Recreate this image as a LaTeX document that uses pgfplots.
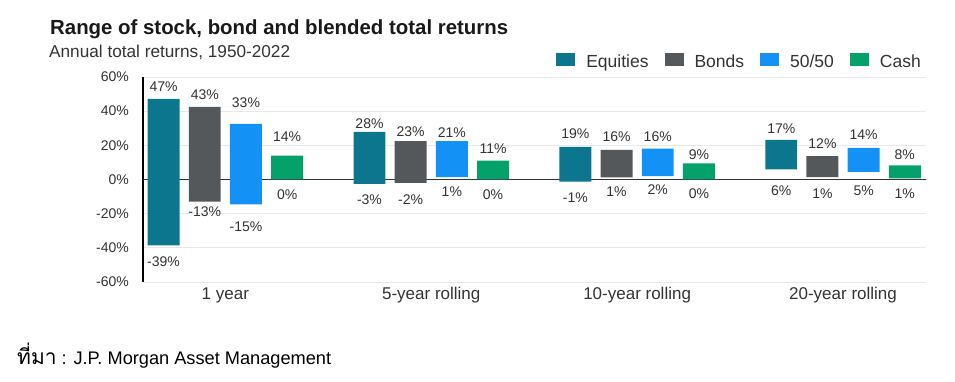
\documentclass[border=0pt]{standalone}
\usepackage{pgfplots}
\usepackage{pgfplotstable}
\pgfplotsset{compat=1.18}
\usepackage{fontspec}
\setmainfont{Liberation Sans}
\newfontfamily\thaifont[Script=Thai]{Loma}
\definecolor{eqc}{HTML}{0C768F}
\definecolor{boc}{HTML}{55585A}
\definecolor{mic}{HTML}{1491F5}
\definecolor{cac}{HTML}{04A16B}
\definecolor{txt}{HTML}{333333}
\definecolor{grd}{HTML}{E8E8E8}

% x: bar position; *b = bottom of range, *d = height of range (top - bottom)
\pgfplotstableread{
x     eqb    eqd   bob    bod   mib    mid   cab   cad
-0.3  -38.6  85.8  0      0     0      0     0     0
-0.1  0      0     -12.9  55.4  0      0     0     0
0.1   0      0     0      0     -14.6  47.2  0     0
0.3   0      0     0      0     0      0     0     14.0
0.7   -2.5   30.4  0      0     0      0     0     0
0.9   0      0     -2.0   24.4  0      0     0     0
1.1   0      0     0      0     1.4    21.0  0     0
1.3   0      0     0      0     0      0     0     11.0
1.7   -1.2   20.3  0      0     0      0     0     0
1.9   0      0     1.2    16.2  0      0     0     0
2.1   0      0     0      0     2.0    16.0  0     0
2.3   0      0     0      0     0      0     0     9.5
2.7   5.9    17.3  0      0     0      0     0     0
2.9   0      0     1.4    12.3  0      0     0     0
3.1   0      0     0      0     4.5    14.0  0     0
3.3   0      0     0      0     0      0     0.6   7.6
}\rangedata

\pgfplotsset{sqlegend/.style={legend image code/.code={\fill[##1] (0pt,-4pt) rectangle (19pt,9pt); \path (30pt,0pt);}}}
\newcommand\lab[3]{\node[font=\fontsize{14}{16}\selectfont, text=txt, inner sep=0pt] at (axis cs:#1,#2) {#3\%};}

\begin{document}
\begin{tikzpicture}
\path[use as bounding box] (0pt,0pt) rectangle (955pt,382pt);
\node[anchor=base west, inner sep=0pt, font=\bfseries\fontsize{20.4}{24}\selectfont, text=black!90] at (50pt,347pt) {Range of stock, bond and blended total returns};
\node[anchor=base west, inner sep=0pt, font=\fontsize{17.2}{20}\selectfont, text=txt] at (49pt,324.5pt) {Annual total returns, 1950-2022};
\node[anchor=base west, inner sep=0pt, font=\fontsize{18.2}{20}\selectfont] at (17pt,17.5pt) {{\thaifont\fontsize{21}{24}\selectfont ที่มา} : J.P. Morgan Asset Management};
\begin{axis}[
  at={(143pt,100pt)}, anchor=south west,
  scale only axis, width=783pt, height=205pt,
  ybar stacked, stack negative=on previous, bar width=0.155,
  xmin=-0.4, xmax=3.403, ymin=-60, ymax=60,
  axis lines*=left,
  x axis line style={draw=none},
  y axis line style={black, line width=1.3pt},
  ytick={-60,-40,-20,0,20,40,60},
  yticklabels={-60\%,-40\%,-20\%,0\%,20\%,40\%,60\%},
  xtick={0,1,2,3},
  xticklabels={1 year,5-year rolling,10-year rolling,20-year rolling},
  major tick length=0pt,
  ymajorgrids, grid style={draw=grd, line width=0.8pt},
  yticklabel style={anchor=east, inner sep=0pt, xshift=-14pt, font=\fontsize{14}{16}\selectfont, text=txt},
  xticklabel style={anchor=base, inner sep=0pt, yshift=-17.7pt, font=\fontsize{17}{20}\selectfont, text=txt},
  every axis plot post/.append style={sqlegend},
  legend columns=4,
  legend style={at={(0.9936,1.0768)}, anchor=east, draw=none, fill=none, inner sep=0pt,
    font=\fontsize{17.5}{20}\selectfont, text=txt, nodes={inner sep=0pt},
    /tikz/every even column/.append style={column sep=16pt}},
]
\addplot[forget plot, draw=none, fill=none] table[x=x, y=eqb] {\rangedata};
\addplot[fill=eqc, draw=none] table[x=x, y=eqd] {\rangedata};
\addlegendentry{Equities}
\addplot[forget plot, draw=none, fill=none] table[x=x, y=bob] {\rangedata};
\addplot[fill=boc, draw=none] table[x=x, y=bod] {\rangedata};
\addlegendentry{Bonds}
\addplot[forget plot, draw=none, fill=none] table[x=x, y=mib] {\rangedata};
\addplot[fill=mic, draw=none] table[x=x, y=mid] {\rangedata};
\addlegendentry{50/50}
\addplot[forget plot, draw=none, fill=none] table[x=x, y=cab] {\rangedata};
\addplot[fill=cac, draw=none] table[x=x, y=cad] {\rangedata};
\addlegendentry{Cash}
\draw[line width=1.5pt, black!80] (axis cs:-0.4,0) -- (axis cs:3.422,0);
% labels
\lab{-0.3}{54.4}{47}\lab{-0.1}{49.7}{43}\lab{0.1}{45.2}{33}\lab{0.3}{25.2}{14}
\lab{-0.3}{-48.4}{-39}\lab{-0.1}{-18.6}{-13}\lab{0.1}{-27.4}{-15}\lab{0.3}{-8.6}{0}
\lab{0.7}{32.8}{28}\lab{0.9}{28.2}{23}\lab{1.1}{27.3}{21}\lab{1.3}{18.0}{11}
\lab{0.7}{-11.7}{-3}\lab{0.9}{-11.6}{-2}\lab{1.1}{-7.3}{1}\lab{1.3}{-9.1}{0}
\lab{1.7}{27.1}{19}\lab{1.9}{25.2}{16}\lab{2.1}{25.1}{16}\lab{2.3}{14.8}{9}
\lab{1.7}{-10.5}{-1}\lab{1.9}{-7.3}{1}\lab{2.1}{-6.0}{2}\lab{2.3}{-8.1}{0}
\lab{2.7}{29.6}{17}\lab{2.9}{20.7}{12}\lab{3.1}{26.0}{14}\lab{3.3}{14.8}{8}
\lab{2.7}{-6.6}{6}\lab{2.9}{-8.1}{1}\lab{3.1}{-6.6}{5}\lab{3.3}{-8.1}{1}
\end{axis}
\end{tikzpicture}
\end{document}
